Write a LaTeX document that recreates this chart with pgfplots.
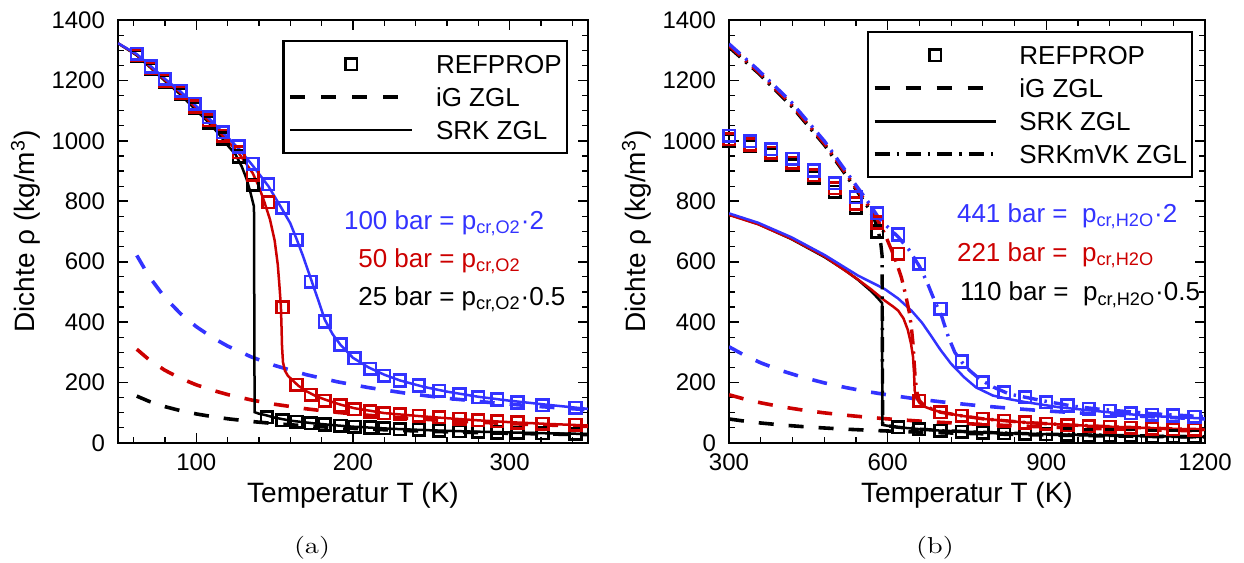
\documentclass[border=0pt]{standalone}
\usepackage{fontspec}
\newfontfamily\arial{Liberation Sans}
\usepackage{graphicx}
\usepackage{pgfplots}
\pgfplotsset{compat=1.18}
\definecolor{cb}{RGB}{51,51,255}
\definecolor{cr}{RGB}{204,0,0}
\newcommand{\tf}{\arial\fontsize{12}{14}\selectfont}
\newcommand{\lf}{\arial\fontsize{14}{16}\selectfont}
\newcommand{\gf}{\arial\fontsize{13}{15}\selectfont}
\pgfplotsset{
  myaxis/.style={
    scale only axis, height=211.5pt,
    ymin=0, ymax=1400, ytick={0,200,...,1400}, minor ytick={50,100,...,1350},
    tick align=inside, tick pos=both,
    major tick length=5pt, minor tick length=3pt,
    major tick style={black, line width=0.8pt},
    minor tick style={black, line width=0.6pt},
    axis line style={line width=1.3pt},
    tick label style={font=\tf},
    /pgf/number format/assume math mode=true,
    /pgf/number format/1000 sep={},
    yticklabel style={xshift=-3pt},
    xticklabel style={yshift=-2pt},
    xlabel style={at={(axis description cs:0.5,-0.1418)}, anchor=base, font=\lf},
    ylabel style={anchor=base, font=\lf},
    legend cell align=left,
    legend style={draw=black, line width=1.1pt, fill=white, font=\gf,
      inner xsep=2.5pt, inner ysep=3.3pt, row sep=0pt, column sep=11pt,
      nodes={inner xsep=0pt, inner ysep=3.5pt, text height=9.5pt, text depth=0pt}},
  },
  srk/.style={line width=1.25pt, mark=none},
  ig/.style={line width=1.8pt, dash pattern=on 7.5pt off 7.5pt, mark=none},
  mvk/.style={line width=1.7pt, dash pattern=on 7.5pt off 3.5pt on 1.2pt off 3.5pt, mark=none},
  ref/.style={only marks, mark=square, mark size=2.9pt, mark options={line width=1.3pt}},
}
\begin{document}
\begin{tikzpicture}
\path[use as bounding box] (-59pt,-60pt) rectangle (563pt,221.5pt);
% ---------------- (a) ----------------
\begin{axis}[myaxis, at={(0pt,0pt)}, anchor=south west, width=235pt,
  xmin=50, xmax=350, xtick={100,200,300},
  minor xtick={60,80,120,140,160,180,220,240,260,280,320,340},
  xlabel={Temperatur T (K)}, ylabel={Dichte ρ (kg/m\textsuperscript{3})},
  ylabel style={at={(axis description cs:-0.1766,0.5)}},
  legend style={at={(0.957,0.953)}, anchor=north east}]
\addlegendimage{legend image code/.code={\path[draw=none] (0pt,0pt) -- (61pt,0pt);
  \draw[black, line width=1.3pt] (27.6pt,-2.9pt) rectangle (33.4pt,2.9pt);}}
\addlegendentry{REFPROP}
\addlegendimage{legend image code/.code={\draw[black, line width=1.8pt, dash pattern=on 7.5pt off 8pt] (0pt,0pt) -- (61pt,0pt);}}
\addlegendentry{iG ZGL}
\addlegendimage{legend image code/.code={\draw[black, line width=1.3pt] (0pt,0pt) -- (61pt,0pt);}}
\addlegendentry{SRK ZGL}
% iG
\addplot[ig, black] coordinates {(62,155.2)(70,137.5)(80,120.3)(90,106.9)(100,96.2)(110,87.5)(120,80.2)(135,71.3)(150,64.2)(170,56.6)(190,50.7)(210,45.8)(235,40.9)(260,37.0)(290,33.2)(320,30.1)(350,27.5)};
\addplot[ig, cr] coordinates {(62,310.4)(70,274.9)(80,240.5)(90,213.8)(100,192.4)(110,175.0)(120,160.4)(135,142.5)(150,128.3)(170,113.2)(190,101.3)(210,91.6)(235,81.9)(260,74.0)(290,66.4)(320,60.1)(350,55.0)};
\addplot[ig, cb] coordinates {(62,620.8)(70,549.8)(80,481.1)(90,427.6)(100,384.9)(110,349.9)(120,320.7)(135,285.1)(150,256.6)(170,226.4)(190,202.6)(210,183.3)(235,163.8)(260,148.0)(290,132.7)(320,120.3)(350,110.0)};
% REFPROP
\addplot[ref, black] coordinates {(62,1280)(71,1237)(80,1195)(90,1154)(99,1108)(108,1060)(117,1008)(127,948)(136,855)(145,86)(155,76)(164,70)(173,65)(182,61)(192,57)(201,54)(211,51)(220,49)(230,46)(242,44)(255,41)(268,39)(280,37)(292,35)(305,34)(321,32)(342,30)};
\addplot[ref, cr] coordinates {(62,1283)(71,1241)(80,1199)(90,1159)(99,1114)(108,1068)(117,1017)(127,962)(136,888)(146,797)(155,449)(164,192)(173,160)(182,140)(192,124)(201,112)(211,104)(220,99)(230,95)(242,90)(255,85)(268,80)(280,76)(292,72)(305,68)(321,64)(342,60)};
\addplot[ref, cb] coordinates {(62,1288)(71,1246)(80,1205)(90,1166)(99,1122)(108,1078)(117,1028)(127,981)(136,924)(146,857)(155,778)(164,672)(173,534)(182,402)(192,326)(201,281)(211,245)(220,223)(230,207)(242,190)(255,173)(268,161)(280,152)(292,144)(305,134)(321,125)(342,117)};
% SRK
\addplot[srk, black] coordinates {(50,1323)(62,1283)(71,1241)(80,1198)(90,1153)(99,1106)(108,1060)(114,1025)(120,985)(125,955)(129,915)(132,875)(134.5,830)(136.8,782)(137.2,102)(140,97)(143.6,93)(150,84)(160,74)(175,65)(190,58)(200,54)(225,47)(250,42)(275,38)(300,35)(325,32)(350,30)};
\addplot[srk, cr] coordinates {(50,1323)(62,1285)(71,1243)(80,1201)(90,1158)(99,1113)(108,1066)(117,1016)(127,960)(136,893)(140,848)(143.6,795)(147,740)(150,670)(152,590)(153.2,510)(154,450)(154.4,380)(154.7,320)(155.3,268)(156.5,240)(158.5,222)(161,210)(165,190)(170,172)(176,156)(182,144)(192,127)(201,115)(220,99)(240,90)(260,82)(280,75)(300,69)(325,63)(350,58)};
\addplot[srk, cb] coordinates {(50,1323)(62,1287)(71,1247)(80,1205)(90,1163)(99,1120)(108,1075)(117,1027)(127,975)(136,918)(146,850)(155,772)(160,727)(164,675)(168,620)(173,545)(178,470)(182,408)(187,360)(192,325)(200,282)(210,250)(220,226)(230,207)(245,186)(260,170)(280,153)(300,140)(325,126)(350,113)};
\node[anchor=base west, font=\gf, text=cb] at (axis cs:189.8,708) {100 bar = p\textsubscript{cr,O2}·2};
\node[anchor=base west, font=\gf, text=cr] at (axis cs:198.9,581) {50 bar = p\textsubscript{cr,O2}};
\node[anchor=base west, font=\gf, text=black] at (axis cs:198.9,455) {25 bar = p\textsubscript{cr,O2}·0.5};
\end{axis}
% ---------------- (b) ----------------
\begin{axis}[myaxis, at={(305.5pt,0pt)}, anchor=south west, width=238pt,
  xmin=300, xmax=1200, xtick={300,600,900,1200},
  minor xtick={360,420,480,540,660,720,780,840,960,1020,1080,1140},
  xlabel={Temperatur T (K)}, ylabel={Dichte ρ (kg/m\textsuperscript{3})},
  ylabel style={at={(axis description cs:-0.1744,0.5)}},
  legend style={at={(0.975,0.974)}, anchor=north east}]
\addlegendimage{legend image code/.code={\path[draw=none] (0pt,0pt) -- (60.5pt,0pt);
  \draw[black, line width=1.3pt] (27.35pt,-2.9pt) rectangle (33.15pt,2.9pt);}}
\addlegendentry{REFPROP}
\addlegendimage{legend image code/.code={\draw[black, line width=1.8pt, dash pattern=on 7.5pt off 8pt] (0pt,0pt) -- (60.5pt,0pt);}}
\addlegendentry{iG ZGL}
\addlegendimage{legend image code/.code={\draw[black, line width=1.3pt] (0pt,0pt) -- (60.5pt,0pt);}}
\addlegendentry{SRK ZGL}
\addlegendimage{legend image code/.code={\draw[black, line width=1.8pt, dash pattern=on 7.5pt off 3.5pt on 1.2pt off 3.5pt] (0pt,0pt) -- (60.5pt,0pt);}}
\addlegendentry{SRKmVK ZGL}
% iG
\addplot[ig, black] coordinates {(300,79.5)(330,72.2)(360,66.2)(400,59.6)(440,54.2)(480,49.7)(520,45.8)(560,42.6)(600,39.7)(650,36.7)(700,34.1)(760,31.4)(820,29.1)(880,27.1)(950,25.1)(1020,23.4)(1100,21.7)(1200,19.9)};
\addplot[ig, cr] coordinates {(300,159.6)(330,145.1)(360,133.0)(400,119.7)(440,108.8)(480,99.8)(520,92.1)(560,85.5)(600,79.8)(650,73.7)(700,68.4)(760,63.0)(820,58.4)(880,54.4)(950,50.4)(1020,46.9)(1100,43.5)(1200,39.9)};
\addplot[ig, cb] coordinates {(300,318.5)(330,289.6)(360,265.4)(400,238.9)(440,217.2)(480,199.1)(520,183.8)(560,170.6)(600,159.3)(650,147.0)(700,136.5)(760,125.7)(820,116.5)(880,108.6)(950,100.6)(1020,93.7)(1100,86.9)(1200,79.6)};
% REFPROP
\addplot[ref, black] coordinates {(300,1001)(340,982)(380,955)(420,920)(460,878)(500,832)(540,778)(580,700)(620,52)(660,46)(700,41)(740,37)(780,35)(820,33)(860,31)(900,29)(940,28)(980,26)(1020,25)(1060,24)(1100,23)(1140,22)(1180,21)};
\addplot[ref, cr] coordinates {(300,1006)(340,988)(380,961)(420,927)(460,887)(500,843)(540,793)(580,730)(620,626)(660,140)(700,102)(740,90)(780,80)(820,74)(860,68)(900,63)(940,59)(980,56)(1020,53)(1060,50)(1100,48)(1140,46)(1180,44)};
\addplot[ref, cb] coordinates {(300,1017)(340,999)(380,973)(420,940)(460,902)(500,860)(540,813)(580,760)(620,690)(660,593)(700,444)(740,270)(780,201)(820,168)(860,151)(900,135)(940,124)(980,113)(1020,107)(1060,98)(1100,94)(1140,91)(1180,87)};
% SRK
\addplot[srk, black] coordinates {(300,756)(355,725)(418,675)(481,615)(520,571)(544,540)(569,502)(580,482)(589.5,463)(590,60)(600,57)(620,52)(660,46)(700,41)(800,34)(900,29)(1000,26)(1100,23)(1200,20)};
\addplot[srk, cr] coordinates {(300,755)(355,724)(418,676)(481,617)(544,541)(569,508)(594,472)(610,452)(620,438)(630,412)(638,375)(644,330)(648,285)(650,230)(651,175)(654,150)(660,133)(670,120)(682,112)(700,102)(740,90)(780,80)(860,68)(940,60)(1020,54)(1100,49)(1200,44)};
\addplot[srk, cb] coordinates {(300,760)(355,729)(418,681)(481,622)(544,554)(594,510)(620,478)(645,438)(665,398)(682,355)(700,308)(720,262)(745,217)(767,184)(799,157)(830,145)(862,135)(925,118)(988,107)(1050,96)(1113,88)(1200,81)};
% SRKmVK
\addplot[mvk, black] coordinates {(300,1310)(355,1225)(418,1115)(481,985)(531,862)(563,780)(575,740)(582,705)(587,660)(589.5,620)(590.5,60)(600,57)(620,52)(660,46)(700,41)(800,34)(900,29)(1000,26)(1100,23)(1200,20)};
\addplot[mvk, cr] coordinates {(300,1315)(355,1229)(418,1120)(481,990)(531,867)(563,788)(582,735)(595,690)(607,640)(617,595)(626,548)(634,490)(641.5,427)(645,380)(648,328)(650,270)(652,217)(655,170)(660,140)(670,122)(700,102)(740,90)(780,80)(860,68)(940,60)(1020,54)(1100,49)(1200,44)};
\addplot[mvk, cb] coordinates {(300,1321)(355,1235)(418,1128)(481,998)(531,875)(563,798)(582,748)(600,715)(620,682)(640,640)(660,585)(675,530)(690,465)(702,420)(715,350)(727,300)(740,268)(755,240)(775,210)(800,185)(830,162)(893,140)(950,122)(1000,112)(1100,97)(1200,87)};
\node[anchor=base west, font=\gf, text=cb] at (axis cs:717.9,731) {441 bar =\ \ p\textsubscript{cr,H2O}·2};
\node[anchor=base west, font=\gf, text=cr] at (axis cs:717.9,601) {221 bar =\ \ p\textsubscript{cr,H2O}};
\node[anchor=base west, font=\gf, text=black] at (axis cs:723.5,471) {110 bar =\ \ p\textsubscript{cr,H2O}·0.5};
\end{axis}
\node[font=\fontsize{11.5}{13}\selectfont] at (97pt,-52.5pt) {\scalebox{1.25}[1]{(a)}};
\node[font=\fontsize{11.5}{13}\selectfont] at (408.5pt,-52.5pt) {\scalebox{1.25}[1]{(b)}};
\end{tikzpicture}
\end{document}
